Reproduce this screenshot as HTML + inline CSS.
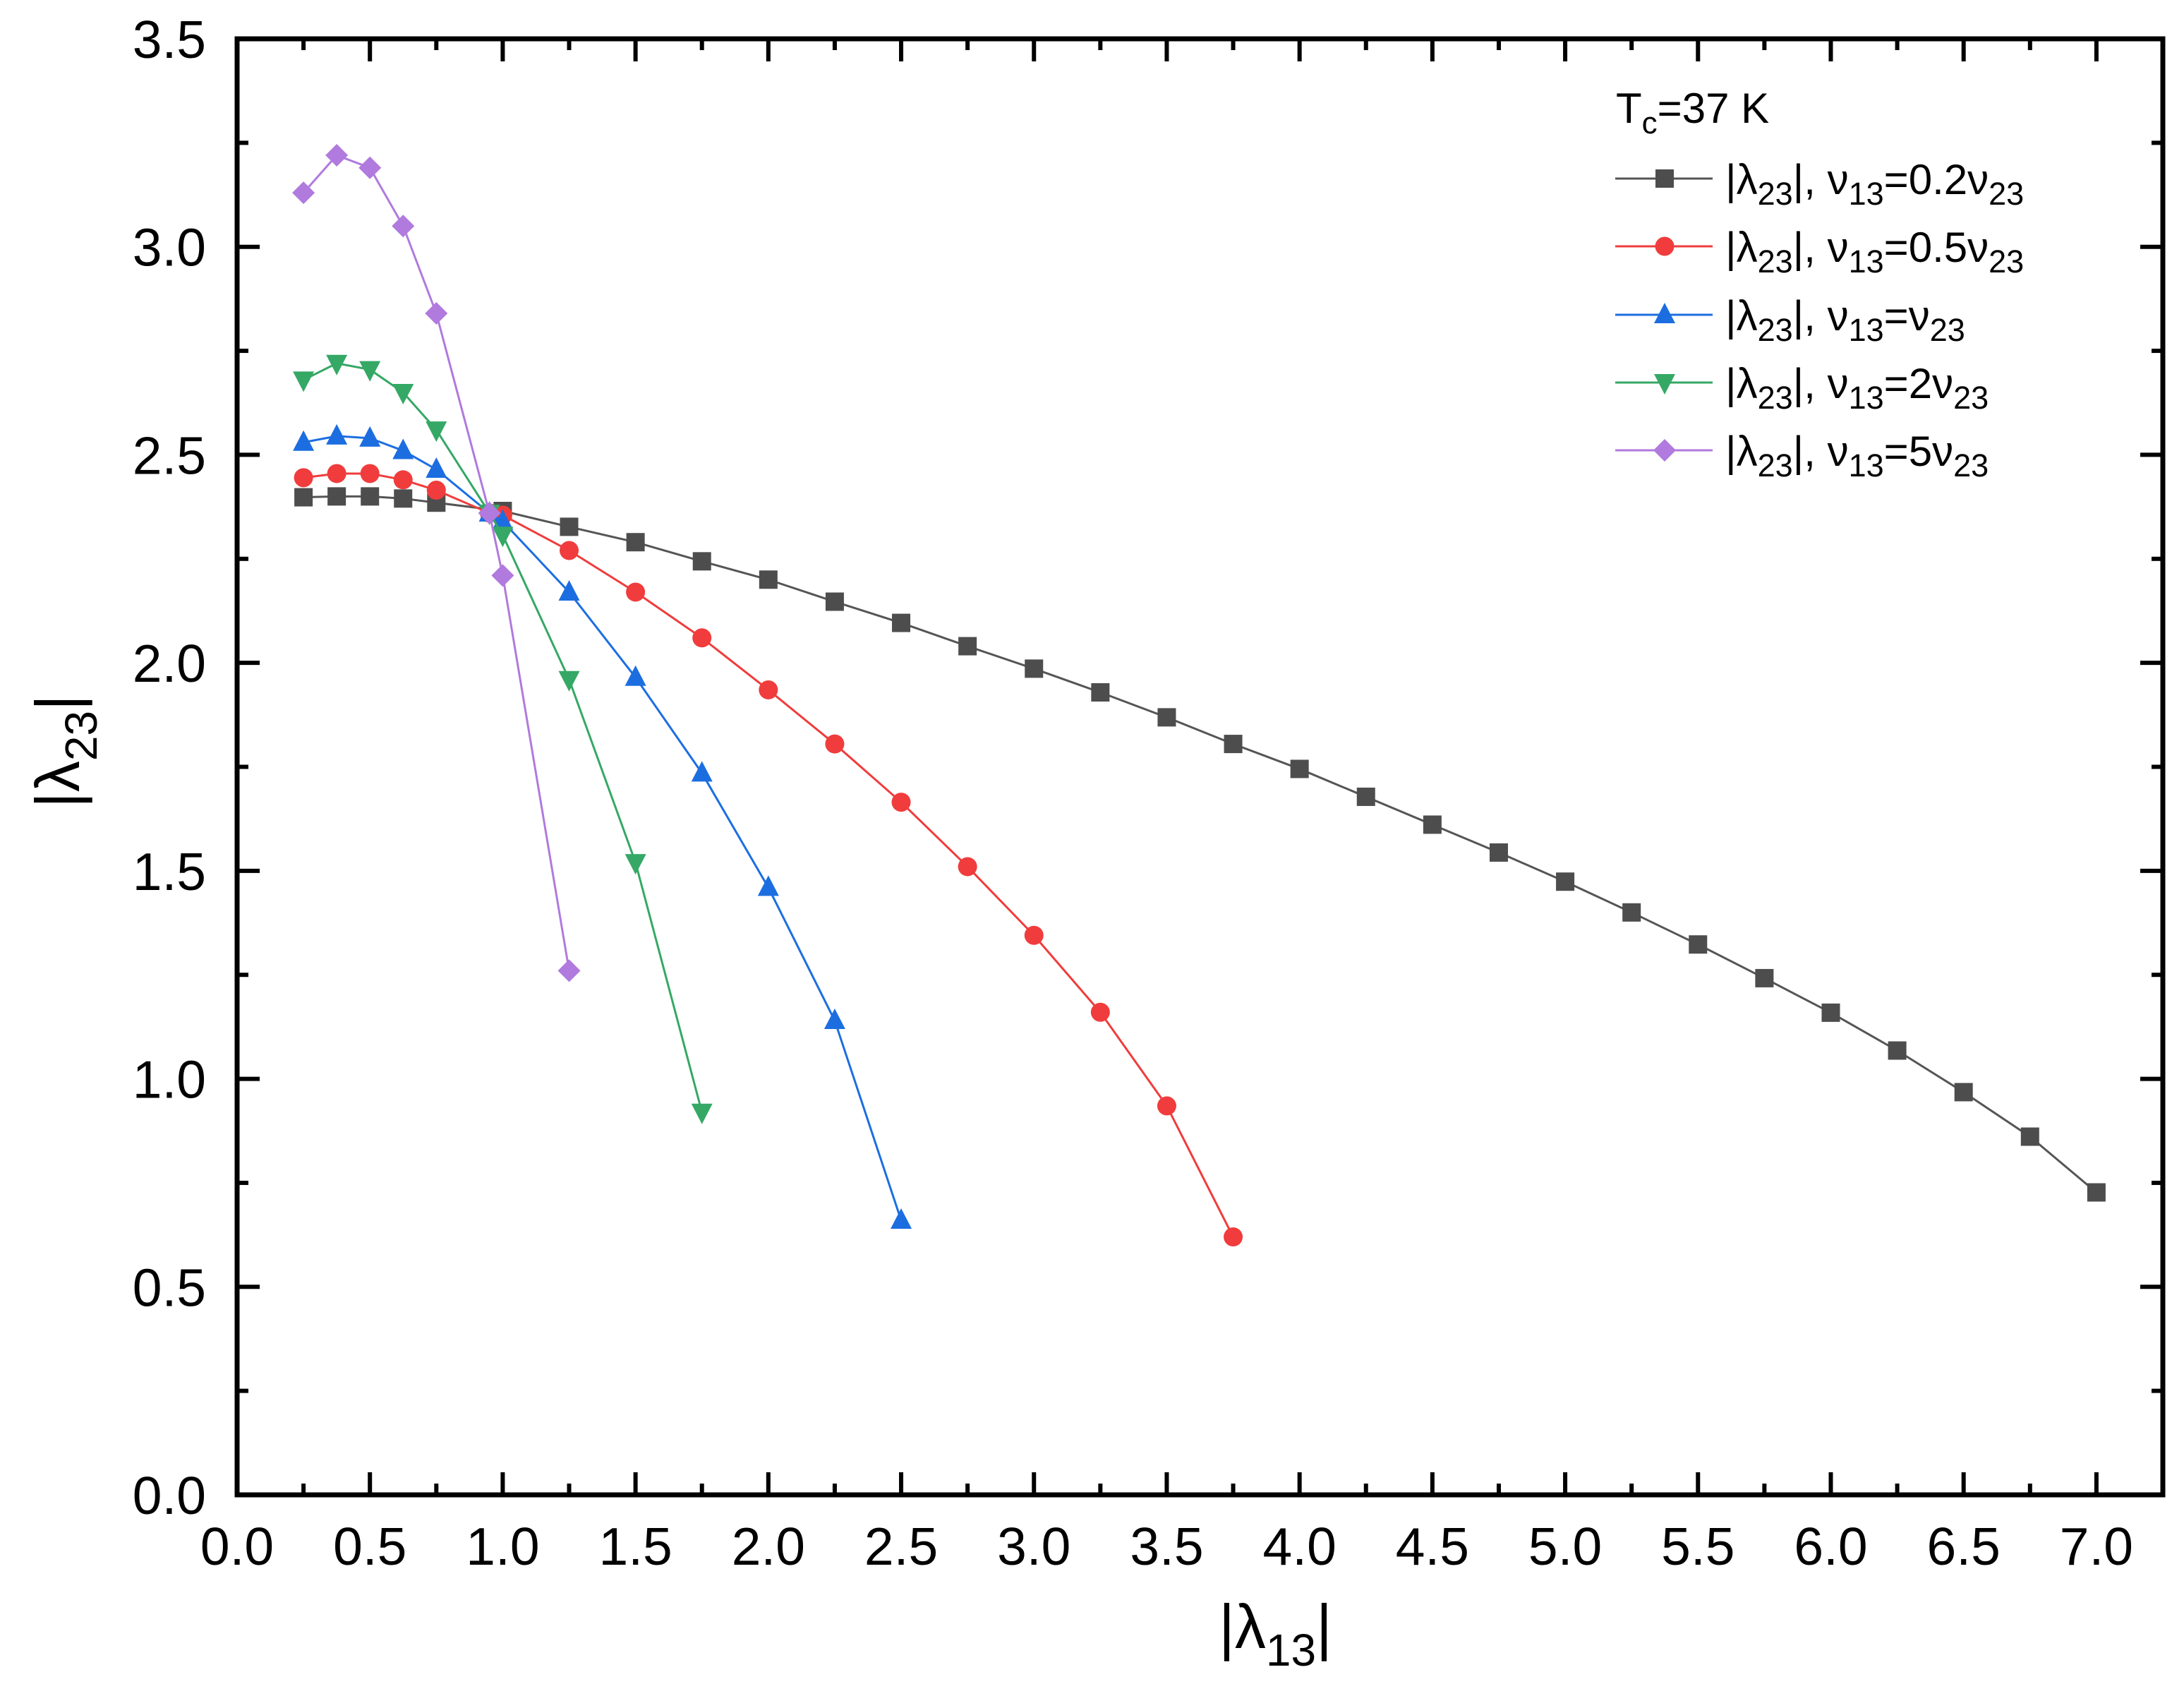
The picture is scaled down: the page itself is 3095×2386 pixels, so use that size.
<!DOCTYPE html>
<html><head><meta charset="utf-8"><style>
html,body{margin:0;padding:0;background:#fff;}
svg{display:block;font-family:"Liberation Sans",sans-serif;}
</style></head><body>
<svg id="chart" width="3095" height="2386" viewBox="0 0 3095 2386" xmlns="http://www.w3.org/2000/svg">
<g id="marks"></g>
<g id="axes"></g>
<g id="legend"></g>
</svg>
<script>
const xBlack=[0.25,0.375,0.5,0.625,0.75,1.0,1.25,1.5,1.75,2.0,2.25,2.5,2.75,3.0,3.25,3.5,3.75,4.0,4.25,4.5,4.75,5.0,5.25,5.5,5.75,6.0,6.25,6.5,6.75,7.0];
const yBlack=[2.398,2.40,2.40,2.395,2.385,2.365,2.327,2.29,2.244,2.20,2.147,2.096,2.04,1.986,1.929,1.869,1.805,1.745,1.678,1.611,1.544,1.474,1.40,1.323,1.242,1.159,1.068,0.968,0.861,0.727];
const xRed=[0.25,0.375,0.5,0.625,0.75,0.95,1.0,1.25,1.5,1.75,2.0,2.25,2.5,2.75,3.0,3.25,3.5,3.75];
const yRed=[2.445,2.455,2.455,2.44,2.415,2.36,2.355,2.27,2.17,2.06,1.935,1.805,1.665,1.51,1.345,1.16,0.935,0.62];
const xBlue=[0.25,0.375,0.5,0.625,0.75,0.95,1.0,1.25,1.5,1.75,2.0,2.25,2.5];
const yBlue=[2.53,2.545,2.54,2.51,2.465,2.36,2.34,2.17,1.965,1.735,1.46,1.14,0.66];
const xGreen=[0.25,0.375,0.5,0.625,0.75,0.95,1.0,1.25,1.5,1.75];
const yGreen=[2.68,2.72,2.705,2.65,2.56,2.36,2.307,1.96,1.52,0.92];
const xPurple=[0.25,0.375,0.5,0.625,0.75,0.95,1.0,1.25];
const yPurple=[3.13,3.22,3.19,3.05,2.84,2.36,2.21,1.26];
const xTicks=["0.0","0.5","1.0","1.5","2.0","2.5","3.0","3.5","4.0","4.5","5.0","5.5","6.0","6.5","7.0"];
const yTicks=["0.0","0.5","1.0","1.5","2.0","2.5","3.0","3.5"];

const NS="http://www.w3.org/2000/svg";
const L=336,R=3065,T=55,B=2118,XMAX=7.25,YMAX=3.5;
const X=v=>L+(R-L)*v/XMAX, Y=v=>B-(B-T)*v/YMAX;
function mk(tag,attrs,parent){const e=document.createElementNS(NS,tag);for(const k in attrs)e.setAttribute(k,attrs[k]);parent.appendChild(e);return e;}
const marks=document.getElementById('marks'),axes=document.getElementById('axes');

function marker(shape,cx,cy,color,parent){
  let e,s=13;
  if(shape==='square')e=mk('rect',{x:cx-s,y:cy-s,width:2*s,height:2*s,fill:color},parent);
  else if(shape==='circle')e=mk('circle',{cx:cx,cy:cy,r:13.5,fill:color},parent);
  else if(shape==='up')e=mk('polygon',{points:`${cx},${cy-17} ${cx-15},${cy+12} ${cx+15},${cy+12}`,fill:color},parent);
  else if(shape==='down')e=mk('polygon',{points:`${cx},${cy+17} ${cx-15},${cy-12} ${cx+15},${cy-12}`,fill:color},parent);
  else e=mk('polygon',{points:`${cx},${cy-16} ${cx+16},${cy} ${cx},${cy+16} ${cx-16},${cy}`,fill:color},parent);
  return e;
}
const series=[
 {xs:xBlack,ys:yBlack,c:'#4d4d4d',lc:'#555',sh:'square',name:'black'},
 {xs:xRed,ys:yRed,c:'#f03c3c',lc:'#f03c3c',sh:'circle',name:'red'},
 {xs:xBlue,ys:yBlue,c:'#1c6ee0',lc:'#1c6ee0',sh:'up',name:'blue'},
 {xs:xGreen,ys:yGreen,c:'#35a865',lc:'#35a865',sh:'down',name:'green'},
 {xs:xPurple,ys:yPurple,c:'#b07ade',lc:'#b07ade',sh:'diamond',name:'purple'}];
series.forEach(s=>{
  const g=mk('g',{},marks);
  
  
  const ln=mk('polyline',{points:s.xs.map((x,i)=>X(x)+','+Y(s.ys[i])).join(' '),fill:'none',stroke:s.lc,'stroke-width':3},g);
  
  
  s.xs.forEach((x,i)=>{const m=marker(s.sh,X(x),Y(s.ys[i]),s.c,g);
    
    });
});
const fr=mk('rect',{x:L,y:T,width:R-L,height:B-T,fill:'none',stroke:'#000','stroke-width':7},axes);


for(let i=0;i<=29;i++){const v=i*0.25,len=(i%2===0)?32:16,x=X(v);
  mk('line',{x1:x,y1:B,x2:x,y2:B-len,stroke:'#000','stroke-width':6},axes);
  mk('line',{x1:x,y1:T,x2:x,y2:T+len,stroke:'#000','stroke-width':6},axes);}
xTicks.forEach(t=>{const e=mk('text',{x:X(parseFloat(t)),y:2217,'font-size':75,'text-anchor':'middle'},axes);e.textContent=t;
  
  });
for(let i=0;i<=14;i++){const v=i*0.25,len=(i%2===0)?32:16,y=Y(v);
  mk('line',{x1:L,y1:y,x2:L+len,y2:y,stroke:'#000','stroke-width':6},axes);
  mk('line',{x1:R,y1:y,x2:R-len,y2:y,stroke:'#000','stroke-width':6},axes);}
yTicks.forEach(t=>{const e=mk('text',{x:292,y:Y(parseFloat(t))+27,'font-size':75,'text-anchor':'end'},axes);e.textContent=t;
  
  });
</script>
<svg style="position:absolute;left:0;top:0" width="3095" height="2386">
<text x="1727" y="2335" font-family="Liberation Sans, sans-serif" font-size="88">|λ<tspan font-size="64" dy="25">13</tspan><tspan dy="-25">|</tspan></text>
<text transform="translate(112,1145) rotate(-90)" font-family="Liberation Sans, sans-serif" font-size="88">|λ<tspan font-size="64" dy="25">23</tspan><tspan dy="-25">|</tspan></text>
<g font-family="Liberation Sans, sans-serif">
<text x="2290" y="174" font-size="60">T<tspan font-size="44" dy="15">c</tspan><tspan dy="-15">=37 K</tspan></text>
<g><line x1="2289" y1="253" x2="2427" y2="253" stroke="#555" stroke-width="3"/><rect x="2346" y="240" width="26" height="26" fill="#4d4d4d"/><text x="2445" y="275" font-size="60">|λ<tspan font-size="45" dy="15">23</tspan><tspan dy="-15">|, ν</tspan><tspan font-size="45" dy="15">13</tspan><tspan dy="-15">=0.2ν</tspan><tspan font-size="45" dy="15">23</tspan></text></g>
<g><line x1="2289" y1="349" x2="2427" y2="349" stroke="#f03c3c" stroke-width="3"/><circle cx="2359" cy="349" r="13.5" fill="#f03c3c"/><text x="2445" y="371" font-size="60">|λ<tspan font-size="45" dy="15">23</tspan><tspan dy="-15">|, ν</tspan><tspan font-size="45" dy="15">13</tspan><tspan dy="-15">=0.5ν</tspan><tspan font-size="45" dy="15">23</tspan></text></g>
<g><line x1="2289" y1="446" x2="2427" y2="446" stroke="#1c6ee0" stroke-width="3"/><polygon points="2359,429 2344,458 2374,458" fill="#1c6ee0"/><text x="2445" y="468" font-size="60">|λ<tspan font-size="45" dy="15">23</tspan><tspan dy="-15">|, ν</tspan><tspan font-size="45" dy="15">13</tspan><tspan dy="-15">=ν</tspan><tspan font-size="45" dy="15">23</tspan></text></g>
<g><line x1="2289" y1="542" x2="2427" y2="542" stroke="#35a865" stroke-width="3"/><polygon points="2359,559 2344,530 2374,530" fill="#35a865"/><text x="2445" y="564" font-size="60">|λ<tspan font-size="45" dy="15">23</tspan><tspan dy="-15">|, ν</tspan><tspan font-size="45" dy="15">13</tspan><tspan dy="-15">=2ν</tspan><tspan font-size="45" dy="15">23</tspan></text></g>
<g><line x1="2289" y1="638" x2="2427" y2="638" stroke="#b07ade" stroke-width="3"/><polygon points="2359,622 2375,638 2359,654 2343,638" fill="#b07ade"/><text x="2445" y="660" font-size="60">|λ<tspan font-size="45" dy="15">23</tspan><tspan dy="-15">|, ν</tspan><tspan font-size="45" dy="15">13</tspan><tspan dy="-15">=5ν</tspan><tspan font-size="45" dy="15">23</tspan></text></g>
</g>
</svg>
</body></html>
